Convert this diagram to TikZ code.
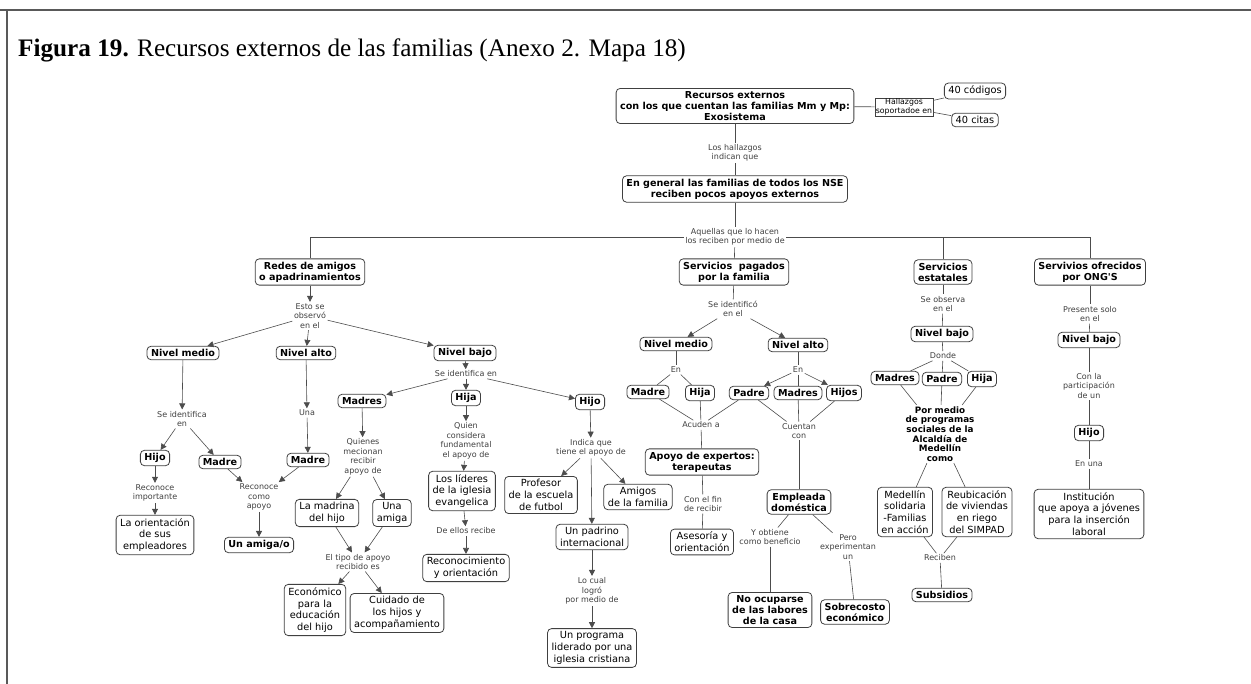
\documentclass[tikz,border=0pt]{standalone}
\usepackage{fontspec}
\setmainfont{Liberation Serif}
\newfontfamily\mapfont{DejaVu Sans}
\usetikzlibrary{arrows.meta}

\tikzset{
  concept/.style={draw=black!75, rounded corners=4pt, fill=white, align=center,
    font=\mapfont\bfseries\fontsize{9.6}{11}\selectfont,
    inner xsep=4pt, inner ysep=3pt, line width=0.8pt},
  leaf/.style={concept, font=\mapfont\fontsize{9.8}{11.8}\selectfont},
  linkph/.style={align=center, font=\mapfont\fontsize{8}{9.5}\selectfont,
    text=black!75, inner sep=1.5pt, fill=white},
  boldph/.style={linkph, font=\mapfont\bfseries\fontsize{8.8}{9.6}\selectfont, text=black},
  tagbox/.style={draw=black!75, align=center, font=\mapfont\fontsize{7.8}{8.5}\selectfont,
    inner sep=1pt, fill=white},
  conn/.style={draw=black!70, line width=0.6pt},
  arr/.style={conn, -{Triangle[length=6pt,width=6pt]}},
}

\begin{document}
\begin{tikzpicture}[x=1pt,y=-1pt]
  \useasboundingbox (0,0) rectangle (1251,684);
  % Frame
  \draw[black!65, line width=1.5pt] (0,10) -- (1251,10);
  \draw[black!65, line width=1.5pt] (7,10) -- (7,684);
  % Title
  \node[anchor=base west, inner sep=0pt, font=\fontsize{25.2}{29}\selectfont] (title) at (18,57)
    {\textbf{Figura 19.} Recursos externos de las familias (Anexo 2. Mapa 18)};

  % Nodes: top
  \node[concept] (recursos) at (735,106) {Recursos externos\\con los que cuentan las familias Mm y Mp:\\Exosistema};
  \node[tagbox] (hallazgos) at (904,107) {Hallazgos\\soportadoe en};
  \node[leaf] (codigos) at (975,91) {40 códigos};
  \node[leaf] (citas) at (975,120) {40 citas};
  \node[linkph] (hallind) at (735,153) {Los hallazgos\\indican que};
  \node[concept] (general) at (735,189) {En general las familias de todos los NSE\\reciben pocos apoyos externos};
  \node[linkph] (aquellas) at (735,237) {Aquellas que lo hacen\\los reciben por medio de};
  \node[concept] (redes) at (310,272) {Redes de amigos\\o apadrinamientos};
  \node[concept] (pagados) at (734,272) {Servicios\ \ pagados\\por la familia};
  \node[concept] (estatales) at (943,272) {Servicios\\estatales};
  \node[concept] (ongs) at (1090,272) {Servivios ofrecidos\\por ONG'S};

  % Nodes: redes de amigos
  \node[linkph] (esto) at (310,316) {Esto se\\observó\\en el};
  \node[concept] (rmedio) at (183,353) {Nivel medio};
  \node[concept] (ralto) at (306,353) {Nivel alto};
  \node[concept] (rbajo) at (465,353) {Nivel bajo};
  \node[linkph] (rmident) at (182,419) {Se identifica\\en};
  \node[concept] (rmhijo) at (155,458) {Hijo};
  \node[concept] (rmmadre) at (220,462) {Madre};
  \node[linkph] (rmreco) at (155,493) {Reconoce\\importante};
  \node[leaf] (orient) at (155,535) {La orientación\\de sus\\empleadores};
  \node[linkph] (recapoyo) at (259,497) {Reconoce\\como\\apoyo};
  \node[linkph] (una) at (307,413) {Una};
  \node[concept] (ramadre) at (308,460) {Madre};
  \node[concept] (amiga) at (259,545) {Un amiga/o};
  \node[linkph] (rbident) at (466,374) {Se identifica en};
  \node[concept] (rbmadres) at (362,401) {Madres};
  \node[concept] (rbhija) at (466,398) {Hija};
  \node[concept] (rbhijo) at (590,402) {Hijo};
  \node[linkph] (quienes) at (363,457) {Quienes\\mecionan\\recibir\\apoyo de};
  \node[leaf] (madrina) at (327,513) {La madrina\\del hijo};
  \node[leaf] (unaamiga) at (392,513) {Una\\amiga};
  \node[linkph] (tipo) at (358,562) {El tipo de apoyo\\recibido es};
  \node[leaf] (economico) at (315,610) {Económico\\para la\\educación\\del hijo};
  \node[leaf] (cuidado) at (397,613) {Cuidado de\\los hijos y\\acompañamiento};
  \node[linkph] (quien) at (466,441) {Quien\\considera\\fundamental\\el apoyo de};
  \node[leaf] (lideres) at (462,491) {Los líderes\\de la iglesia\\evangelica};
  \node[linkph] (deellos) at (466,531) {De ellos recibe};
  \node[leaf] (reconoc) at (466,568) {Reconocimiento\\y orientación};
  \node[linkph] (indica) at (591,448) {Indica que\\tiene el apoyo de};
  \node[leaf] (profesor) at (541,495) {Profesor\\de la escuela\\de futbol};
  \node[leaf] (amigos) at (638,497) {Amigos\\de la familia};
  \node[leaf] (padrino) at (592,537) {Un padrino\\internacional};
  \node[linkph] (locual) at (592,591) {Lo cual\\logró\\por medio de};
  \node[leaf] (programa) at (592,648) {Un programa\\liderado por una\\iglesia cristiana};

  % Nodes: servicios pagados
  \node[linkph] (identif) at (733,309) {Se identificó\\en el};
  \node[concept] (pmedio) at (676,344) {Nivel medio};
  \node[concept] (palto) at (798,345) {Nivel alto};
  \node[linkph] (pmen) at (676,370) {En};
  \node[linkph] (paen) at (798,370) {En};
  \node[concept] (pmmadre) at (648,392) {Madre};
  \node[concept] (pmhija) at (700,393) {Hija};
  \node[concept] (papadre) at (749,393) {Padre};
  \node[concept] (pamadres) at (798,393) {Madres};
  \node[concept] (pahijos) at (844,393) {Hijos};
  \node[linkph] (acuden) at (701,425) {Acuden a};
  \node[linkph] (cuentan) at (799,431) {Cuentan\\con};
  \node[concept] (expertos) at (702,462) {Apoyo de expertos:\\terapeutas};
  \node[linkph] (confin) at (703,504) {Con el fin\\de recibir};
  \node[leaf] (asesoria) at (702,542) {Asesoría y\\orientación};
  \node[concept] (empleada) at (799,502) {Empleada\\doméstica};
  \node[linkph] (obtiene) at (770,537) {Y obtiene\\como beneficio};
  \node[linkph] (pero) at (848,547) {Pero\\experimentan\\un};
  \node[concept] (nocup) at (770,610) {No ocuparse\\de las labores\\de la casa};
  \node[concept] (sobrecosto) at (855,612) {Sobrecosto\\económico};

  % Nodes: servicios estatales
  \node[linkph] (observa) at (943,304) {Se observa\\en el};
  \node[concept] (ebajo) at (942,334) {Nivel bajo};
  \node[linkph] (donde) at (943,356) {Donde};
  \node[concept] (emadres) at (895,378) {Madres};
  \node[concept] (epadre) at (942,379) {Padre};
  \node[concept] (ehija) at (982,379) {Hija};
  \node[boldph] (pormedio) at (940,434) {Por medio\\de programas\\sociales de la\\Alcaldía de\\Medellín\\como};
  \node[leaf] (solidaria) at (905,512) {Medellín\\solidaria\\-Familias\\en acción};
  \node[leaf] (reubic) at (977,512) {Reubicación\\de viviendas\\en riego\\del SIMPAD};
  \node[linkph] (reciben) at (940,558) {Reciben};
  \node[concept] (subsidios) at (942,595) {Subsidios};

  % Nodes: ONG'S
  \node[linkph] (presente) at (1090,314) {Presente solo\\en el};
  \node[concept] (obajo) at (1089,340) {Nivel bajo};
  \node[linkph] (conla) at (1089,386) {Con la\\participación\\de un};
  \node[concept] (ohijo) at (1089,433) {Hijo};
  \node[linkph] (enuna) at (1089,464) {En una};
  \node[leaf] (instit) at (1089,514) {Institución\\que apoya a jóvenes\\para la inserción\\laboral};

  % Lines: top
  \draw[conn] (recursos) -- (hallazgos);
  \draw[conn] (hallazgos) -- (codigos);
  \draw[conn] (hallazgos) -- (citas);
  \draw[conn] (recursos) -- (hallind);
  \draw[conn] (hallind) -- (general);
  \draw[conn] (general) -- (aquellas);
  \draw[conn] (aquellas) -| (redes);
  \draw[conn] (aquellas) -- (pagados);
  \draw[conn] (aquellas) -| (estatales);
  \draw[conn] (aquellas) -| (ongs);

  % Arrows: redes de amigos
  \draw[arr] (redes) -- (esto);
  \draw[arr] (esto) -- (rmedio);
  \draw[arr] (esto) -- (ralto);
  \draw[arr] (esto) -- (rbajo);
  \draw[arr] (rmedio) -- (rmident);
  \draw[arr] (rmident) -- (rmhijo);
  \draw[arr] (rmident) -- (rmmadre);
  \draw[arr] (rmhijo) -- (rmreco);
  \draw[arr] (rmreco) -- (orient);
  \draw[arr] (rmmadre) -- (recapoyo);
  \draw[arr] (ralto) -- (una);
  \draw[arr] (una) -- (ramadre);
  \draw[arr] (ramadre) -- (recapoyo);
  \draw[arr] (recapoyo) -- (amiga);
  \draw[arr] (rbajo) -- (rbident);
  \draw[arr] (rbident) -- (rbmadres);
  \draw[arr] (rbident) -- (rbhija);
  \draw[arr] (rbident) -- (rbhijo);
  \draw[arr] (rbmadres) -- (quienes);
  \draw[arr] (quienes) -- (madrina);
  \draw[arr] (quienes) -- (unaamiga);
  \draw[arr] (madrina) -- (tipo);
  \draw[arr] (unaamiga) -- (tipo);
  \draw[arr] (tipo) -- (economico);
  \draw[arr] (tipo) -- (cuidado);
  \draw[arr] (rbhija) -- (quien);
  \draw[arr] (quien) -- (lideres);
  \draw[arr] (lideres) -- (deellos);
  \draw[arr] (deellos) -- (reconoc);
  \draw[arr] (rbhijo) -- (indica);
  \draw[arr] (indica) -- (profesor);
  \draw[arr] (indica) -- (padrino);
  \draw[arr] (indica) -- (amigos);
  \draw[arr] (padrino) -- (locual);
  \draw[arr] (locual) -- (programa);

  % Lines: servicios pagados
  \draw[conn] (pagados) -- (identif);
  \draw[arr] (identif) -- (pmedio);
  \draw[arr] (identif) -- (palto);
  \draw[conn] (pmedio) -- (pmen);
  \draw[conn] (pmen) -- (pmmadre);
  \draw[conn] (pmen) -- (pmhija);
  \draw[conn] (palto) -- (paen);
  \draw[arr] (paen) -- (papadre);
  \draw[conn] (paen) -- (pamadres);
  \draw[arr] (paen) -- (pahijos);
  \draw[conn] (pmmadre) -- (acuden);
  \draw[conn] (pmhija) -- (acuden);
  \draw[conn] (papadre) -- (acuden);
  \draw[conn] (papadre) -- (cuentan);
  \draw[conn] (pamadres) -- (cuentan);
  \draw[conn] (pahijos) -- (cuentan);
  \draw[conn] (acuden) -- (expertos);
  \draw[conn] (expertos) -- (confin);
  \draw[conn] (confin) -- (asesoria);
  \draw[conn] (cuentan) -- (empleada);
  \draw[conn] (empleada) -- (obtiene);
  \draw[conn] (empleada) -- (pero);
  \draw[conn] (obtiene) -- (nocup);
  \draw[conn] (pero) -- (sobrecosto);

  % Lines: servicios estatales
  \draw[conn] (estatales) -- (observa);
  \draw[conn] (observa) -- (ebajo);
  \draw[conn] (ebajo) -- (donde);
  \draw[conn] (donde) -- (emadres);
  \draw[conn] (donde) -- (epadre);
  \draw[conn] (donde) -- (ehija);
  \draw[conn] (emadres) -- (pormedio);
  \draw[conn] (epadre) -- (pormedio);
  \draw[conn] (ehija) -- (pormedio);
  \draw[conn] (pormedio) -- (solidaria);
  \draw[conn] (pormedio) -- (reubic);
  \draw[conn] (solidaria) -- (reciben);
  \draw[conn] (reubic) -- (reciben);
  \draw[conn] (reciben) -- (subsidios);

  % Lines: ONG'S
  \draw[conn] (ongs) -- (presente);
  \draw[conn] (presente) -- (obajo);
  \draw[conn] (obajo) -- (conla);
  \draw[conn] (conla) -- (ohijo);
  \draw[conn] (ohijo) -- (enuna);
  \draw[conn] (enuna) -- (instit);
\end{tikzpicture}
\end{document}
